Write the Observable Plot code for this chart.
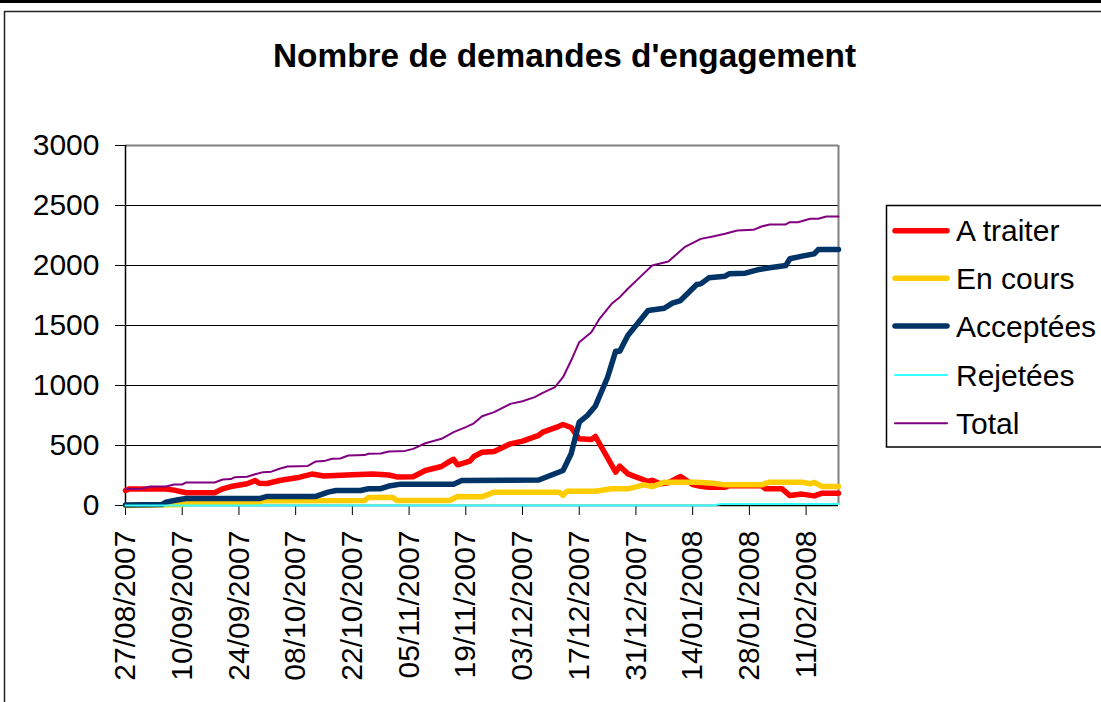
<!DOCTYPE html>
<html>
<head>
<meta charset="utf-8">
<script src="https://cdn.jsdelivr.net/npm/d3@7"></script>
<script src="https://cdn.jsdelivr.net/npm/@observablehq/plot@0.6"></script>
<style>
  html, body { margin: 0; padding: 0; background: #fff; }
  #chart { width: 1101px; height: 702px; overflow: hidden; }
</style>
</head>
<body>
<div id="chart"></div>
<script>
const titleText = "Nombre de demandes d'engagement";
const seriesNames = ["A traiter", "En cours", "Acceptées", "Rejetées", "Total"];
const seriesColors = ["#FF0000", "#FFCC00", "#003366", "#33FFFF", "#800080"];
const seriesWidths = [5.5, 5.5, 5.5, 2, 2];

const xTickLabels = ["27/08/2007","10/09/2007","24/09/2007","08/10/2007","22/10/2007","05/11/2007","19/11/2007","03/12/2007","17/12/2007","31/12/2007","14/01/2008","28/01/2008","11/02/2008"];
const xDomain = ["27/08/2007", "19/02/2008"];
const yTicks = [0, 500, 1000, 1500, 2000, 2500, 3000];

const aTraiter = [
  ["27/08/2007",125],["28/08/2007",138],["06/09/2007",138],["08/09/2007",128],["11/09/2007",106],
  ["18/09/2007",106],["20/09/2007",139],["22/09/2007",158],["26/09/2007",181],["28/09/2007",208],
  ["29/09/2007",185],["01/10/2007",183],["04/10/2007",208],["09/10/2007",236],["12/10/2007",262],
  ["15/10/2007",246],["22/10/2007",256],["27/10/2007",262],["31/10/2007",254],["02/11/2007",238],
  ["06/11/2007",240],["09/11/2007",292],["13/11/2007",325],["15/11/2007",367],["16/11/2007",385],
  ["17/11/2007",339],["20/11/2007",370],["21/11/2007",408],["23/11/2007",444],["26/11/2007",450],
  ["30/11/2007",514],["03/12/2007",536],["07/12/2007",585],["08/12/2007",611],["12/12/2007",660],
  ["13/12/2007",675],["15/12/2007",650],["17/12/2007",556],["20/12/2007",550],["21/12/2007",575],
  ["26/12/2007",278],["27/12/2007",328],["29/12/2007",264],["03/01/2008",200],["04/01/2008",210],
  ["06/01/2008",181],["08/01/2008",190],["11/01/2008",242],["14/01/2008",175],["16/01/2008",160],
  ["18/01/2008",153],["22/01/2008",153],["23/01/2008",165],["31/01/2008",165],["01/02/2008",140],
  ["05/02/2008",140],["07/02/2008",83],["10/02/2008",95],["13/02/2008",80],["15/02/2008",103],
  ["19/02/2008",103]
];

const enCours = [
  ["27/08/2007",0],["10/09/2007",8],["11/09/2007",19],["28/09/2007",19],["30/09/2007",40],
  ["25/10/2007",42],["26/10/2007",66],["01/11/2007",66],["02/11/2007",42],["15/11/2007",42],
  ["17/11/2007",75],["23/11/2007",72],["26/11/2007",111],["12/12/2007",111],["13/12/2007",85],
  ["14/12/2007",119],["21/12/2007",119],["25/12/2007",139],["29/12/2007",139],["02/01/2008",172],
  ["04/01/2008",158],["07/01/2008",194],["15/01/2008",194],["19/01/2008",186],["22/01/2008",172],
  ["31/01/2008",172],["02/02/2008",194],["10/02/2008",194],["12/02/2008",181],["13/02/2008",192],
  ["15/02/2008",158],["19/02/2008",158]
];

const acceptees = [
  ["27/08/2007",5],["05/09/2007",8],["06/09/2007",28],["09/09/2007",48],["11/09/2007",58],
  ["29/09/2007",58],["01/10/2007",76],["13/10/2007",76],["16/10/2007",111],["18/10/2007",125],
  ["24/10/2007",125],["26/10/2007",140],["29/10/2007",140],["31/10/2007",162],["03/11/2007",178],
  ["16/11/2007",178],["18/11/2007",208],["07/12/2007",212],["13/12/2007",292],["15/12/2007",431],
  ["17/12/2007",694],["19/12/2007",750],["21/12/2007",830],["24/12/2007",1069],["26/12/2007",1286],
  ["27/12/2007",1286],["29/12/2007",1417],["31/12/2007",1500],["03/01/2008",1625],["07/01/2008",1644],
  ["09/01/2008",1686],["11/01/2008",1708],["15/01/2008",1842],["16/01/2008",1847],["18/01/2008",1897],
  ["22/01/2008",1911],["23/01/2008",1931],["27/01/2008",1936],["30/01/2008",1964],["02/02/2008",1981],
  ["06/02/2008",2000],["07/02/2008",2056],["10/02/2008",2078],["13/02/2008",2097],["14/02/2008",2133],
  ["19/02/2008",2133]
];

const rejetees = [
  ["27/08/2007",0],["19/01/2008",0],["21/01/2008",12],["19/02/2008",12]
];

const total = [
  ["27/08/2007",137],["31/08/2007",139],["02/09/2007",158],["06/09/2007",158],["08/09/2007",175],
  ["10/09/2007",175],["11/09/2007",192],["18/09/2007",192],["20/09/2007",217],["22/09/2007",220],
  ["23/09/2007",236],["26/09/2007",240],["28/09/2007",260],["30/09/2007",278],["02/10/2007",282],
  ["04/10/2007",306],["06/10/2007",325],["11/10/2007",330],["13/10/2007",367],["15/10/2007",370],
  ["17/10/2007",389],["19/10/2007",392],["21/10/2007",417],["25/10/2007",420],["26/10/2007",431],
  ["29/10/2007",434],["31/10/2007",450],["04/11/2007",455],["06/11/2007",472],["09/11/2007",519],
  ["13/11/2007",556],["16/11/2007",611],["19/11/2007",653],["21/11/2007",685],["23/11/2007",744],
  ["26/11/2007",778],["30/11/2007",847],["03/12/2007",869],["06/12/2007",903],["08/12/2007",939],
  ["11/12/2007",986],["13/12/2007",1069],["15/12/2007",1208],["17/12/2007",1361],["20/12/2007",1444],
  ["22/12/2007",1556],["25/12/2007",1681],["27/12/2007",1736],["29/12/2007",1806],["01/01/2008",1903],
  ["04/01/2008",2000],["08/01/2008",2033],["12/01/2008",2153],["16/01/2008",2222],["19/01/2008",2242],
  ["22/01/2008",2264],["25/01/2008",2292],["29/01/2008",2297],["31/01/2008",2325],["02/02/2008",2342],
  ["06/02/2008",2342],["07/02/2008",2361],["09/02/2008",2361],["12/02/2008",2389],["14/02/2008",2389],
  ["16/02/2008",2408],["19/02/2008",2408]
];

const parse = d3.utcParse("%d/%m/%Y");
const fmt = d3.utcFormat("%d/%m/%Y");
const seriesData = [aTraiter, enCours, acceptees, rejetees, total].map(arr =>
  arr.map(([d, v]) => ({date: parse(d), value: v})));
const xTicks = xTickLabels.map(parse);
const domain = xDomain.map(parse);

const font = "'Liberation Sans', Arial, Helvetica, sans-serif";

const svg = Plot.plot({
  width: 1101,
  height: 702,
  marginLeft: 125,
  marginRight: 263,
  marginTop: 145,
  marginBottom: 197,
  style: {fontFamily: font, fontSize: "30px", color: "#000", background: "#fff", overflow: "visible"},
  x: {type: "utc", domain},
  y: {domain: [0, 3000]},
  marks: [
    Plot.ruleY(yTicks.slice(1, -1), {stroke: "#000", strokeWidth: 1}),
    Plot.ruleY([3000], {stroke: "#808080", strokeWidth: 2}),
    Plot.ruleX([domain[1]], {stroke: "#808080", strokeWidth: 2}),
    Plot.axisY(yTicks, {tickSize: 10, tickPadding: 16, label: null, tickFormat: d => String(d)}),
    Plot.axisX(xTicks, {tickSize: 10, tickPadding: 15, tickRotate: -90, tickFormat: fmt, label: null}),
    Plot.ruleX([domain[0]], {stroke: "#000", strokeWidth: 1.5}),
    Plot.ruleY([0], {stroke: "#000", strokeWidth: 1.5}),
    ...seriesData.map((data, i) => Plot.line(data, {
      x: "date", y: "value", stroke: seriesColors[i], strokeWidth: seriesWidths[i],
      strokeLinejoin: "round", strokeLinecap: "round"
    }))
  ]
});

const s = d3.select(svg);
// outer frame
s.append("rect").attr("x", 0).attr("y", 0).attr("width", 1101).attr("height", 3).attr("fill", "#000");
s.append("rect").attr("x", 4.5).attr("y", 11.5).attr("width", 1200).attr("height", 800)
  .attr("fill", "none").attr("stroke", "#222").attr("stroke-width", 1.5);
// title
s.append("text").attr("x", 564.5).attr("y", 67).attr("text-anchor", "middle")
  .attr("font-family", font).attr("font-weight", "bold").attr("font-size", 33)
  .attr("textLength", 583).attr("lengthAdjust", "spacingAndGlyphs")
  .attr("fill", "#000").text(titleText);
// legend
s.append("rect").attr("x", 886.5).attr("y", 205.5).attr("width", 300).attr("height", 241.5)
  .attr("fill", "#fff").attr("stroke", "#000").attr("stroke-width", 1.5);
const rowsY = [230.7, 278.3, 326, 375, 423.3];
seriesNames.forEach((name, i) => {
  s.append("line").attr("x1", 895).attr("x2", 947).attr("y1", rowsY[i]).attr("y2", rowsY[i])
    .attr("stroke", seriesColors[i]).attr("stroke-width", seriesWidths[i]).attr("stroke-linecap", "round");
  s.append("text").attr("x", 956).attr("y", rowsY[i] + 10.7).attr("text-anchor", "start")
    .attr("font-family", font).attr("font-size", 30).attr("fill", "#000").text(name);
});

document.getElementById("chart").appendChild(svg);
</script>
</body>
</html>
